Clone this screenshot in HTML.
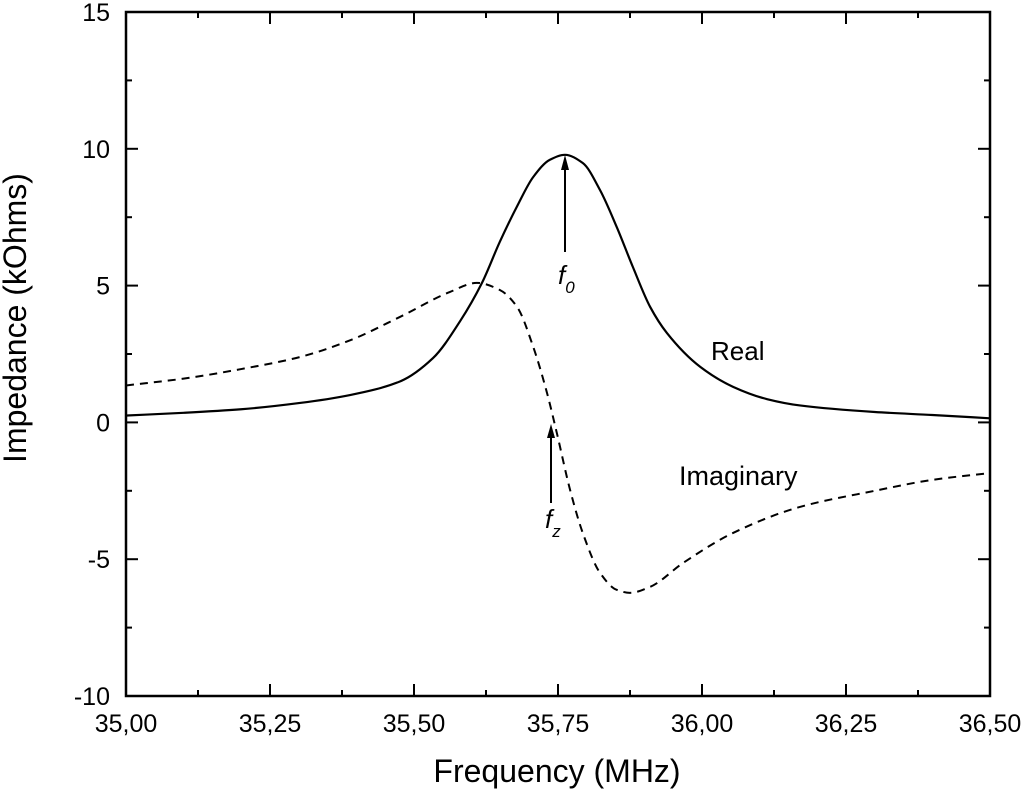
<!DOCTYPE html>
<html><head><meta charset="utf-8"><style>
html,body{margin:0;padding:0;background:#fff;}
svg{display:block;font-family:"Liberation Sans",Arial,sans-serif;}
</style></head><body>
<svg id="chart" width="1024" height="791" viewBox="0 0 1024 791">
<g id="ticks"></g>
<path id="real" fill="none" stroke="#000" stroke-width="2.2"/>
<path id="imag" fill="none" stroke="#000" stroke-width="2" stroke-dasharray="8,6"/>
<rect x="126" y="12" width="864" height="684" fill="none" stroke="#000" stroke-width="2.5"/>
<g id="labels"></g>
<text x="557" y="782" font-size="32" text-anchor="middle">Frequency (MHz)</text>
<text transform="translate(26,318) rotate(-90)" font-size="32" text-anchor="middle">Impedance (kOhms)</text>
<text x="711" y="360" font-size="26">Real</text>
<text x="679" y="485" font-size="27">Imaginary</text>
<g>
<line x1="565" y1="252" x2="565" y2="168" stroke="#000" stroke-width="2"/>
<polygon points="565,155 561,170 569,170" fill="#000"/>
</g>
<text x="558" y="284" font-size="26" font-style="italic">f<tspan font-size="17" dy="9">0</tspan></text>
<g>
<line x1="551" y1="503" x2="551" y2="436" stroke="#000" stroke-width="2"/>
<polygon points="551,424 547,438 555,438" fill="#000"/>
</g>
<text x="545" y="528" font-size="26" font-style="italic">f<tspan font-size="17" dy="9">z</tspan></text>
</svg>
<script>
const xTicks=[35.00,35.25,35.50,35.75,36.00,36.25,36.50];
const xTickLabels=["35,00","35,25","35,50","35,75","36,00","36,25","36,50"];
const yTicks=[-10,-5,0,5,10,15];
const yTickLabels=["-10","-5","0","5","10","15"];
const realX=[35.00,35.10,35.20,35.302,35.389,35.476,35.533,35.58,35.618,35.649,35.679,35.707,35.736,35.762,35.793,35.823,35.852,35.88,35.91,35.939,35.997,36.054,36.113,36.17,36.30,36.40,36.50];
const realY=[0.25,0.35,0.48,0.71,1.0,1.5,2.35,3.7,5.1,6.6,7.9,8.97,9.6,9.78,9.48,8.49,7.14,5.68,4.22,3.27,2.03,1.30,0.85,0.62,0.38,0.27,0.15];
const imagX=[35.00,35.10,35.20,35.302,35.389,35.476,35.5625,35.609,35.649,35.679,35.707,35.731,35.748,35.771,35.793,35.823,35.852,35.875,35.91,35.967,36.054,36.17,36.30,36.40,36.50];
const imagY=[1.35,1.6,1.95,2.39,3.0,3.86,4.77,5.1,4.84,4.22,2.76,1.07,-0.39,-2.47,-4.04,-5.5,-6.12,-6.23,-6.01,-5.14,-4.04,-3.09,-2.5,-2.1,-1.85];
const L=126,R=990,T=12,B=696;
const sx=v=>L+(v-35)/1.5*(R-L);
const sy=v=>B-(v+10)/25*(B-T);
const NS="http://www.w3.org/2000/svg";
function path(xs,ys){
 const p=xs.map((x,i)=>[sx(x),sy(ys[i])]);const n=p.length;
 const dx=[],s=[];for(let i=0;i<n-1;i++){dx[i]=p[i+1][0]-p[i][0];s[i]=(p[i+1][1]-p[i][1])/dx[i];}
 const m=[s[0]];
 for(let i=1;i<n-1;i++){m[i]=(s[i-1]*s[i]<=0)?0:3*(dx[i-1]+dx[i])/((2*dx[i]+dx[i-1])/s[i-1]+(dx[i]+2*dx[i-1])/s[i]);}
 m[n-1]=s[n-2];
 let d="M"+p[0][0].toFixed(2)+","+p[0][1].toFixed(2);
 for(let i=0;i<n-1;i++){const h=dx[i]/3;
  d+=" C"+(p[i][0]+h).toFixed(2)+","+(p[i][1]+m[i]*h).toFixed(2)+" "+(p[i+1][0]-h).toFixed(2)+","+(p[i+1][1]-m[i+1]*h).toFixed(2)+" "+p[i+1][0].toFixed(2)+","+p[i+1][1].toFixed(2);}
 return d;}
document.getElementById('real').setAttribute('d',path(realX,realY));
document.getElementById('imag').setAttribute('d',path(imagX,imagY));
const tg=document.getElementById('ticks'),lg=document.getElementById('labels');
function ln(x1,y1,x2,y2,name){const l=document.createElementNS(NS,'line');
 l.setAttribute('x1',x1);l.setAttribute('y1',y1);l.setAttribute('x2',x2);l.setAttribute('y2',y2);
 l.setAttribute('stroke','#000');l.setAttribute('stroke-width','2');
 
 
 tg.appendChild(l);}
for(let i=0;i<xTicks.length;i++){const x=sx(xTicks[i]);
 ln(x,B,x,B-12,'x-major-tick');ln(x,T,x,T+12,'x-major-tick-top');
 if(i<xTicks.length-1){const m=sx(xTicks[i]+0.125);ln(m,B,m,B-6,'x-minor-tick');ln(m,T,m,T+6,'x-minor-tick-top');}
 const t=document.createElementNS(NS,'text');t.setAttribute('x',x);t.setAttribute('y',B+36);
 t.setAttribute('font-size','25');t.setAttribute('text-anchor','middle');t.textContent=xTickLabels[i];
 
 
 lg.appendChild(t);}
for(let i=0;i<yTicks.length;i++){const y=sy(yTicks[i]);
 ln(L,y,L+12,y,'y-major-tick');ln(R,y,R-12,y,'y-major-tick-right');
 if(i<yTicks.length-1){const m=sy(yTicks[i]+2.5);ln(L,m,L+6,m,'y-minor-tick');ln(R,m,R-6,m,'y-minor-tick-right');}
 const t=document.createElementNS(NS,'text');t.setAttribute('x',L-16);t.setAttribute('y',y+9);
 t.setAttribute('font-size','25');t.setAttribute('text-anchor','end');t.textContent=yTickLabels[i];
 
 
 lg.appendChild(t);}
</script>
</body></html>
